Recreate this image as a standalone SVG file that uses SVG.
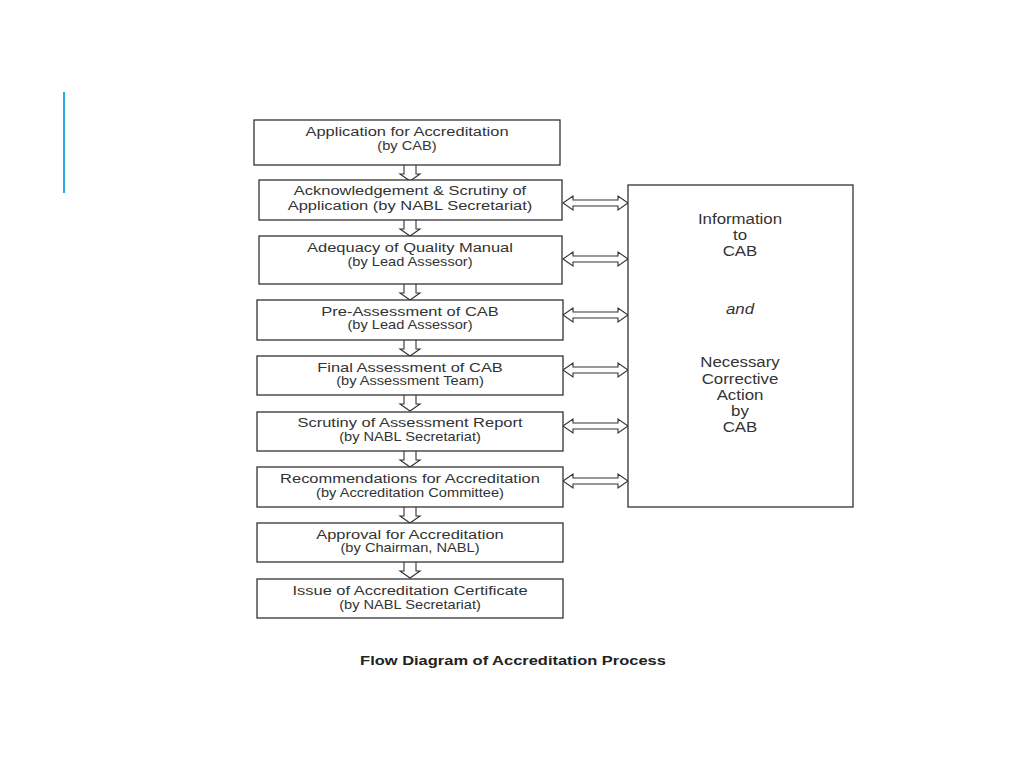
<svg xmlns="http://www.w3.org/2000/svg" width="1024" height="768" viewBox="0 0 1024 768">
<style>
.box{fill:#fff;stroke:#333;stroke-width:1.3}
.t{font-family:"Liberation Sans",Arial,sans-serif;font-size:13.5px;fill:#333;text-anchor:middle}
.s{font-family:"Liberation Sans",Arial,sans-serif;font-size:12px;fill:#333;text-anchor:middle}
.r{font-family:"Liberation Sans",Arial,sans-serif;font-size:13.8px;fill:#333;text-anchor:middle}
.arr{fill:#fff;stroke:#333;stroke-width:1.1;stroke-linejoin:miter}
.cap{font-family:"Liberation Sans",Arial,sans-serif;font-size:13.5px;font-weight:bold;fill:#222;text-anchor:middle}
</style>
<defs>
<path id="down" d="M-6,0 V9 H-10 L0,16 L10,9 H6 V0"/>
<path id="dbl" d="M0,0 L10,-7 V-3 H55 V-7 L65,0 L55,7 V3 H10 V7 Z"/>
</defs>
<rect width="1024" height="768" fill="#fff"/>
<line x1="64" y1="92" x2="64" y2="193" stroke="#29abe2" stroke-width="2"/>
<g id="connectors">
<use href="#down" class="arr" x="410" y="165"/>
<use href="#down" class="arr" x="410" y="220"/>
<use href="#down" class="arr" x="410" y="284"/>
<use href="#down" class="arr" x="410" y="340"/>
<use href="#down" class="arr" x="410" y="395"/>
<use href="#down" class="arr" x="410" y="451"/>
<use href="#down" class="arr" x="410" y="507"/>
<use href="#down" class="arr" x="410" y="562"/>
<use href="#dbl" class="arr" x="563" y="203"/>
<use href="#dbl" class="arr" x="563" y="259"/>
<use href="#dbl" class="arr" x="563" y="315"/>
<use href="#dbl" class="arr" x="563" y="370"/>
<use href="#dbl" class="arr" x="563" y="426"/>
<use href="#dbl" class="arr" x="563" y="481"/>
</g>
<g id="n1"><rect class="box" x="254" y="120" width="306" height="45"/><g transform="translate(407,0) scale(1.22,1)"><text class="t" x="0" y="136">Application for Accreditation</text><text class="s" x="0" y="150">(by CAB)</text></g></g>
<g id="n2"><rect class="box" x="259" y="180" width="303" height="40"/><g transform="translate(410,0) scale(1.22,1)"><text class="t" x="0" y="195">Acknowledgement &amp; Scrutiny of</text><text class="t" x="0" y="210">Application (by NABL Secretariat)</text></g></g>
<g id="n3"><rect class="box" x="259" y="236" width="303" height="48"/><g transform="translate(410,0) scale(1.22,1)"><text class="t" x="0" y="252">Adequacy of Quality Manual</text><text class="s" x="0" y="266">(by Lead Assessor)</text></g></g>
<g id="n4"><rect class="box" x="257" y="300" width="306" height="40"/><g transform="translate(410,0) scale(1.22,1)"><text class="t" x="0" y="316">Pre-Assessment of CAB</text><text class="s" x="0" y="329">(by Lead Assessor)</text></g></g>
<g id="n5"><rect class="box" x="257" y="356" width="306" height="39"/><g transform="translate(410,0) scale(1.22,1)"><text class="t" x="0" y="372">Final Assessment of CAB</text><text class="s" x="0" y="385">(by Assessment Team)</text></g></g>
<g id="n6"><rect class="box" x="257" y="412" width="306" height="39"/><g transform="translate(410,0) scale(1.22,1)"><text class="t" x="0" y="427">Scrutiny of Assessment Report</text><text class="s" x="0" y="441">(by NABL Secretariat)</text></g></g>
<g id="n7"><rect class="box" x="257" y="467" width="306" height="40"/><g transform="translate(410,0) scale(1.22,1)"><text class="t" x="0" y="483">Recommendations for Accreditation</text><text class="s" x="0" y="497">(by Accreditation Committee)</text></g></g>
<g id="n8"><rect class="box" x="257" y="523" width="306" height="39"/><g transform="translate(410,0) scale(1.22,1)"><text class="t" x="0" y="539">Approval for Accreditation</text><text class="s" x="0" y="552">(by Chairman, NABL)</text></g></g>
<g id="n9"><rect class="box" x="257" y="579" width="306" height="39"/><g transform="translate(410,0) scale(1.22,1)"><text class="t" x="0" y="595">Issue of Accreditation Certificate</text><text class="s" x="0" y="609">(by NABL Secretariat)</text></g></g>
<g id="info"><rect class="box" x="628" y="185" width="225" height="322"/>
<g transform="translate(740,0) scale(1.22,1)">
<text class="r" x="0" y="224">Information</text>
<text class="r" x="0" y="240">to</text>
<text class="r" x="0" y="256">CAB</text>
<text class="r" x="0" y="314" font-style="italic">and</text>
<text class="r" x="0" y="367">Necessary</text>
<text class="r" x="0" y="384">Corrective</text>
<text class="r" x="0" y="400">Action</text>
<text class="r" x="0" y="416">by</text>
<text class="r" x="0" y="432">CAB</text>
</g>
</g>
<g transform="translate(513,0) scale(1.22,1)"><text class="cap" x="0" y="665">Flow Diagram of Accreditation Process</text></g>
</svg>
